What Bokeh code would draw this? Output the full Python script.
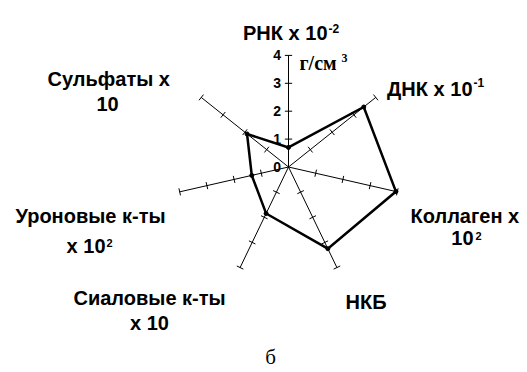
import numpy as np
from bokeh.plotting import figure
from bokeh.models import Range1d
from bokeh.core.properties import value
from bokeh.embed import file_html
from bokeh.resources import INLINE

# Radar axes, clockwise from the top
categories = ["РНК", "ДНК", "Коллаген", "НКБ", "Сиаловые к-ты", "Уроновые к-ты", "Сульфаты"]
values = [0.7, 3.45, 3.95, 3.25, 1.85, 1.35, 1.9]
scale_ticks = [0, 1, 2, 3, 4]
unit_text = "г/см"
caption = "б"

W, H = 527, 372
CX, CY = 288, 166.5      # pixel position of the radar origin
U = 27.9                 # pixels per scale unit
R = max(scale_ticks)


def px(x, y):
    """pixel position -> data coordinates"""
    return (x - CX) / U, (CY - y) / U


p = figure(width=W, height=H, output_backend="svg", toolbar_location=None,
           x_range=Range1d(-CX / U, (W - CX) / U),
           y_range=Range1d(-(H - CY) / U, CY / U),
           x_axis_type=None, y_axis_type=None, min_border=0)
p.grid.visible = False
p.outline_line_color = None
p.background_fill_color = "white"
p.border_fill_color = "white"

n = len(categories)
ang = np.pi / 2 - np.arange(n) * 2 * np.pi / n
cs, sn = np.cos(ang), np.sin(ang)

# spokes
p.segment(x0=np.zeros(n), y0=np.zeros(n), x1=R * cs, y1=R * sn,
          line_color="black", line_width=1)

# cross ticks on every spoke
h = 0.13
tx0, ty0, tx1, ty1 = [], [], [], []
for k in range(n):
    for t in scale_ticks[1:]:
        mx, my = t * cs[k], t * sn[k]
        tx0.append(mx - h * sn[k]); ty0.append(my + h * cs[k])
        tx1.append(mx + h * sn[k]); ty1.append(my - h * cs[k])
p.segment(x0=tx0, y0=ty0, x1=tx1, y1=ty1, line_color="black", line_width=1)

# data polygon
vx = np.array(values) * cs
vy = np.array(values) * sn
p.line(x=np.append(vx, vx[0]), y=np.append(vy, vy[0]),
       line_color="black", line_width=2.5, line_join="miter")
p.scatter(x=vx, y=vy, size=4, color="black")

# scale numbers on the vertical spoke
p.text(x=[-0.27] * len(scale_ticks), y=scale_ticks, text=[str(t) for t in scale_ticks],
       text_align="right", text_baseline="middle", text_font=value("Liberation Sans"),
       text_font_style="bold", text_font_size="14px", text_color="black")

BOLD = dict(text_font=value("Liberation Sans"), text_font_style="bold",
            text_color="black", text_baseline="alphabetic")


def lab(x, y, s, size="20px", align="left", **kw):
    dx, dy = px(x, y)
    opts = dict(BOLD)
    opts.update(kw)
    p.text(x=[dx], y=[dy], text=[s], text_align=align, text_font_size=size, **opts)


# category labels with their multipliers
lab(327, 32, "РНК x 10", align="right")
lab(328, 28, "-2", size="12px")
lab(472, 88, "ДНК x 10", align="right")
lab(473, 82, "-1", size="12px")
lab(410, 215, "Коллаген x")
lab(473, 237, "10", align="right")
lab(475, 235, "2", size="11px")
lab(345, 301, "НКБ")
lab(73, 297, "Сиаловые к-ты")
lab(149, 322, "x 10", align="center")
lab(15, 215, "Уроновые к-ты")
lab(105, 245, "x 10", align="right")
lab(106, 242, "2", size="11px")
lab(47, 78, "Сульфаты x")
lab(107, 103, "10", align="center")

# units next to the top of the scale
lab(299, 62, unit_text, size="20px", text_font=value("Liberation Serif"))
lab(341, 57, "3", size="12px", text_font=value("Liberation Serif"))

# panel letter
lab(270, 356, caption, size="21px", align="center",
    text_font=value("Liberation Serif"), text_font_style="normal")

open("out.html", "w").write(file_html(p, INLINE))
